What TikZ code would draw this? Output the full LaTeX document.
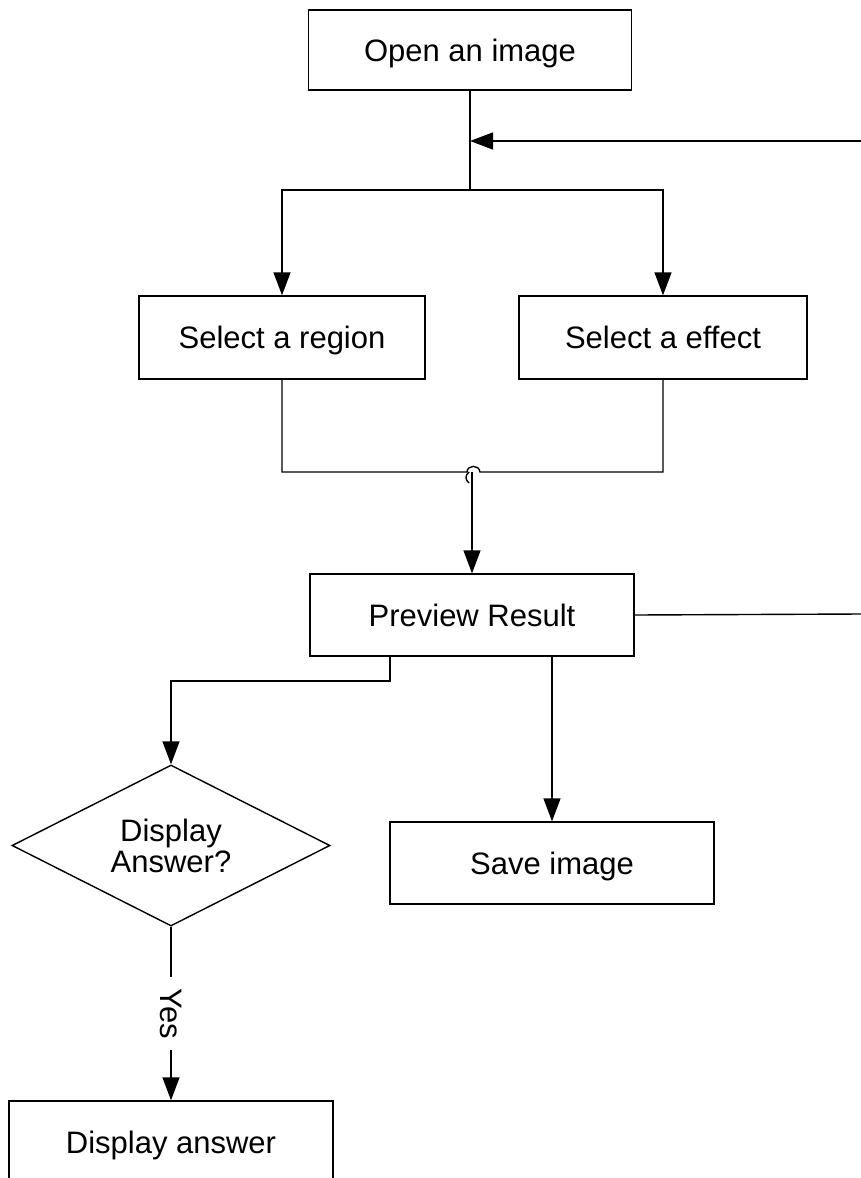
\documentclass[tikz,border=0pt]{standalone}
\usepackage{fontspec}
\setmainfont{Liberation Sans}
\usetikzlibrary{shapes.geometric,arrows.meta,calc}

\begin{document}
\begin{tikzpicture}[x=1pt,y=-1pt,
  every node/.style={font=\fontsize{31}{31}\selectfont, inner sep=0pt, line width=1.4pt},
  stepbox/.style={draw, rectangle, minimum height=82pt, text height=22.2pt, text depth=0pt},
  decision/.style={draw, diamond, aspect=2, minimum width=318pt, minimum height=161pt, align=center},
  flow/.style={line width=1.4pt},
  arr/.style={flow, -{Triangle[length=23pt, width=17pt]}}
]
% page frame
\clip (0,0) rectangle (861,1178);
\fill[white] (0,0) rectangle (861,1178);

% process steps
\node[stepbox, minimum width=323pt, minimum height=80pt] (open)    at (470,50)    {Open an image};
\node[stepbox, minimum width=286pt, minimum height=83pt] (region)  at (282,337.5) {Select a region};
\node[stepbox, minimum width=288pt, minimum height=83pt] (effect)  at (663,337.5) {Select a effect};
\node[stepbox, minimum width=324pt] (preview) at (472,615)   {Preview Result};
\node[stepbox, minimum width=324pt] (save)    at (552,863)   {Save image};
\node[decision] (decide) at (171,845.5) {\raisebox{-2pt}{Display}\\\raisebox{-2pt}{Answer?}};
\node[stepbox, minimum width=324pt, minimum height=83pt] (answer) at (171,1142.5) {Display answer};

% helper points
\coordinate (split)  at (470,190);
\coordinate (loopin) at (861,141);
\coordinate (loopout) at (861,614);
\coordinate (joinL)  at (467,472);
\coordinate (joinR)  at (480,472);
\coordinate (join)   at (472,472);
\coordinate (bendL)  at (390,681);

% open -> split into the two selections
\draw[flow] (open.south) -- (split);
\draw[arr] (loopin) -- (loopin -| open.south);
\draw[arr] (split) -| (region.north);
\draw[arr] (split) -| (effect.north);

% selections merge (with a line hop) and feed the preview
\draw[flow] (region.south) |- (joinL)
  .. controls (467,465) and (479,464) .. (joinR) -| (effect.south);
\draw[flow] (469,483) .. controls (465,480) and (465,475) .. (469,472);
\draw[arr] (join) -- (preview.north -| join);

% preview outputs
\draw[flow] (preview.east) -- (loopout);
\draw[arr] (preview.south -| bendL) -- (bendL) -| (decide.north);
\draw[arr] (preview.south -| save.north) -- (save.north);

% decision
\draw[arr] (decide.south) -- node[midway, fill=white, rotate=-90, inner xsep=11pt, inner ysep=2pt] {Yes} (answer.north);
\end{tikzpicture}
\end{document}
